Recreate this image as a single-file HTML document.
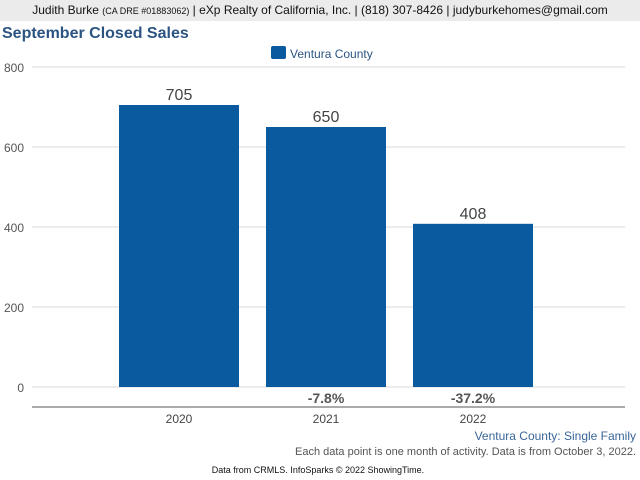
<!DOCTYPE html>
<html><head><meta charset="utf-8"><style>
body{margin:0;width:640px;height:480px;background:#fff;font-family:"Liberation Sans",sans-serif;overflow:hidden;position:relative}
#hdr{position:absolute;left:0;top:0;width:640px;height:21px;background:#ebebeb;font-size:12px;color:#111;text-align:center;line-height:21px}
#title{position:absolute;left:2px;top:25px;font-size:16px;font-weight:bold;color:#2b5483}
</style></head><body>
<div id="hdr">Judith Burke <span style="font-size:9px">(CA DRE #01883062)</span> | eXp Realty of California, Inc. | (818) 307-8426 | judyburkehomes@gmail.com</div>
<div id="title">September Closed Sales</div>
<svg id="chart" width="640" height="480" style="position:absolute;left:0;top:0"></svg>
<script>
const categories=["2020","2021","2022"];
const values=[705,650,408];
const changes=["","-7.8%","-37.2%"];
const yTicks=[0,200,400,600,800];
const svg=document.getElementById('chart');
const NS='http://www.w3.org/2000/svg';
function y(v){return 387-v*0.4;}
function x(i){return 179+i*147;}
function add(tag,attrs,txt){const e=document.createElementNS(NS,tag);for(const k in attrs)e.setAttribute(k,attrs[k]);if(txt!==undefined)e.textContent=txt;svg.appendChild(e);return e;}
yTicks.forEach(t=>{
 const l=add('line',{x1:32,x2:625,y1:y(t),y2:y(t),stroke:'#d8d8d8','stroke-width':1});
 
 
 const tx=add('text',{x:24,y:y(t)+5,'text-anchor':'end','font-size':12,fill:'#555'},t);
 
 
});
const ax=add('line',{x1:32,x2:625,y1:407,y2:407,stroke:'#555','stroke-width':1});


categories.forEach((c,i)=>{
 const b=add('rect',{x:x(i)-60,y:y(values[i]),width:120,height:values[i]*0.4,fill:'#0a5aa0'});
 
 
 const v=add('text',{x:x(i),y:y(values[i])-5,'text-anchor':'middle','font-size':16,fill:'#444'},values[i]);
 
 
 const cl=add('text',{x:x(i),y:423,'text-anchor':'middle','font-size':12,fill:'#444'},c);
 
 
 if(changes[i]){const ch=add('text',{x:x(i),y:403,'text-anchor':'middle','font-size':14,'font-weight':'bold',fill:'#555'},changes[i]);
 
 }
});
const lr=add('rect',{x:271,y:46,width:15,height:13,rx:2,fill:'#0a5aa0'});


const lt=add('text',{x:290,y:58,'font-size':12,fill:'#2b5483'},'Ventura County');


const f1=add('text',{x:636,y:440,'text-anchor':'end','font-size':12,fill:'#3a6699'},'Ventura County: Single Family');


const f2=add('text',{x:636,y:455,'text-anchor':'end','font-size':11,fill:'#555'},'Each data point is one month of activity. Data is from October 3, 2022.');


const f3=add('text',{x:318,y:473,'text-anchor':'middle','font-size':9,fill:'#111'},'Data from CRMLS. InfoSparks © 2022 ShowingTime.');


</script>
</body></html>
